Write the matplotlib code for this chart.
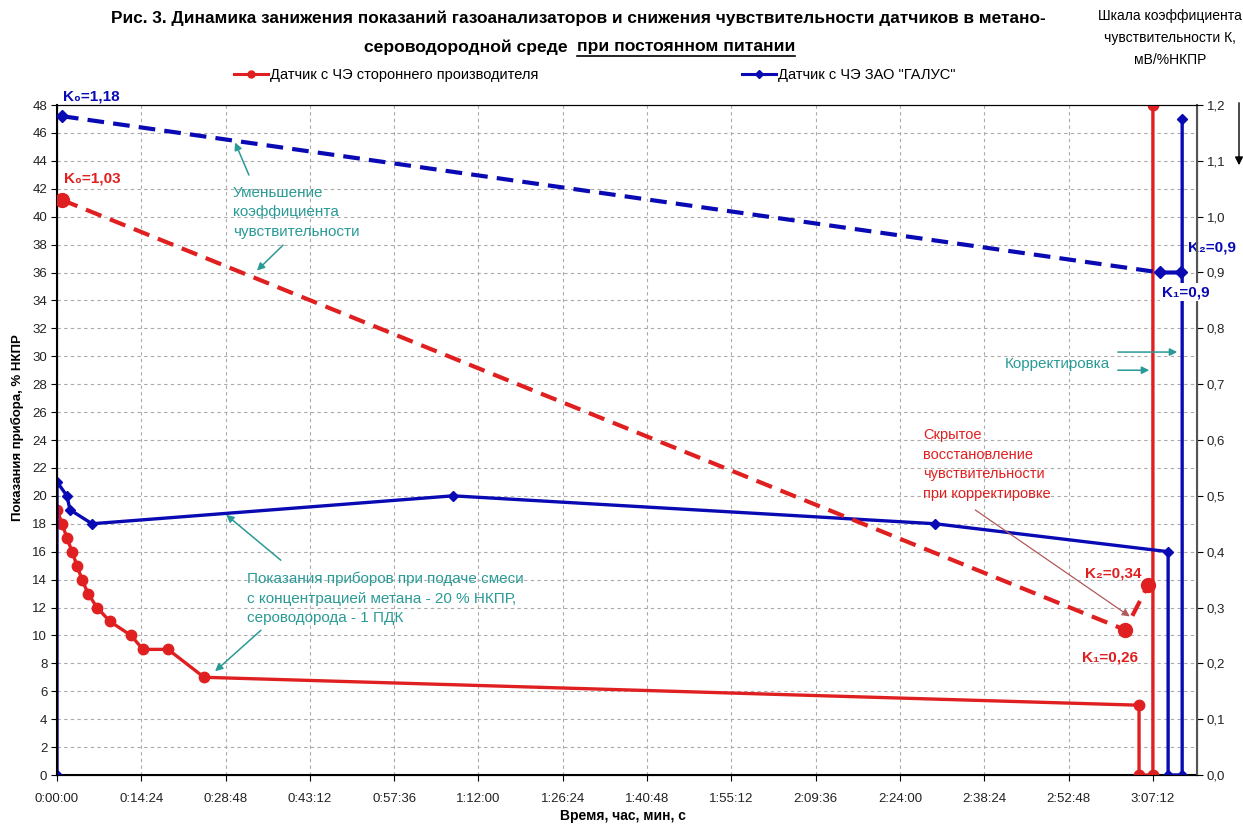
import matplotlib
matplotlib.use('Agg')
import matplotlib.pyplot as plt
from matplotlib.ticker import FuncFormatter, MultipleLocator
from matplotlib.lines import Line2D
from matplotlib.patches import FancyArrowPatch

# --- данные (время в секундах) ---
red_t = [0, 51, 102, 154, 205, 256, 318, 410, 543, 758, 881, 1138, 1507, 11090, 11090, 11232, 11232]
red_v = [19, 18, 17, 16, 15, 14, 13, 12, 11, 10, 9, 9, 7, 5, 0, 0, 48]
blue_t = [0, 0, 102, 133, 359, 4059, 9000, 11388, 11388, 11532, 11532]
blue_v = [0, 21, 20, 19, 18, 20, 18, 16, 0, 0, 47]

# коэффициент чувствительности K, мВ/%НКПР
kred_t = [51, 10947, 11183]
kred_v = [1.03, 0.26, 0.34]
kblue_t = [51, 11306, 11521]
kblue_v = [1.18, 0.90, 0.90]

RED = '#e02020'
BLUE = '#0a0ab4'
TEAL = '#2a9a96'

plt.rcParams['font.family'] = ['Liberation Sans', 'DejaVu Sans']

fig = plt.figure(figsize=(12.43, 8.25), dpi=100)
ax = fig.add_axes([57 / 1243, 1 - 775 / 825, (1197 - 57) / 1243, (775 - 105) / 825])
ax2 = ax.twinx()

ax.plot(red_t, red_v, color=RED, lw=2.4, marker='o', ms=7.5, zorder=3)
ax.plot(blue_t, blue_v, color=BLUE, lw=2.4, marker='D', ms=5.5, zorder=3)
ax2.plot(kred_t, kred_v, color=RED, lw=3, ls=(0, (4, 2.2)), marker='o', ms=10, zorder=3)
ax2.plot(kblue_t, kblue_v, color=BLUE, lw=3, ls=(0, (4, 2.2)), marker='D', ms=6.5, zorder=3)

ax.set_xlim(0, 11684)
ax.set_ylim(0, 48)
ax2.set_ylim(0, 1.2)
ax.xaxis.set_major_locator(MultipleLocator(864))
ax.yaxis.set_major_locator(MultipleLocator(2))
ax2.yaxis.set_major_locator(MultipleLocator(0.1))


def hms(x, pos):
    s = int(round(x))
    return f"{s // 3600}:{s % 3600 // 60:02d}:{s % 60:02d}"


ax.xaxis.set_major_formatter(FuncFormatter(hms))
ax2.yaxis.set_major_formatter(FuncFormatter(lambda v, p: f"{v:.1f}".replace('.', ',')))

ax.grid(True, ls=(0, (3, 3)), color='#aaaaaa', lw=0.8)
ax.set_axisbelow(True)
for a in (ax, ax2):
    a.tick_params(labelsize=9.5, length=4, direction='out', pad=3, labelcolor='#222222')
ax.tick_params(axis='x', pad=9)
ax2.spines['right'].set_color('#555555')
ax2.spines['right'].set_linewidth(1.5)
ax.spines['left'].set_linewidth(1.5)
ax.spines['bottom'].set_linewidth(1.5)

ax.set_ylabel('Показания прибора, % НКПР', fontsize=9.5, fontweight='bold')
ax.yaxis.set_label_coords(-0.029, 0.518)
ax.set_xlabel('Время, час, мин, с', fontsize=10, fontweight='bold')
ax.xaxis.set_label_coords(0.496, -0.051)

# --- заголовок ---
fig.text(578 / 1243, 1 - 18 / 825,
         'Рис. 3. Динамика занижения показаний газоанализаторов и снижения чувствительности датчиков в метано-',
         ha='center', va='center', fontsize=12.4, fontweight='bold')
fig.text(573 / 1243, 1 - 47 / 825, 'сероводородной среде ', ha='right', va='center',
         fontsize=12.6, fontweight='bold')
t_under = fig.text(577 / 1243, 1 - 47 / 825, 'при постоянном питании', ha='left', va='center',
                   fontsize=12.6, fontweight='bold')

fig.text(1170 / 1243, 1 - 9 / 825, 'Шкала коэффициента\nчувствительности К,\nмВ/%НКПР',
         ha='center', va='top', fontsize=10, linespacing=1.75)
fig.add_artist(FancyArrowPatch((1239 / 1243, 1 - 100 / 825), (1239 / 1243, 1 - 168 / 825),
                               transform=fig.transFigure, arrowstyle='-|>',
                               mutation_scale=12, color='black', lw=1))

# --- легенда ---
h_red = Line2D([], [], color=RED, lw=2.2, marker='o', ms=5)
h_blue = Line2D([], [], color=BLUE, lw=2.2, marker='D', ms=4)
fig.legend([h_red, h_blue], ['Датчик с ЧЭ стороннего производителя', 'Датчик с ЧЭ ЗАО "ГАЛУС"'],
           loc='center left', bbox_to_anchor=(234 / 1243, 1 - 75 / 825), ncol=2, frameon=False,
           prop={'size': 10.5}, handlelength=2.3, handletextpad=0.15,
           columnspacing=14.0, borderpad=0, borderaxespad=0)

# --- подписи K ---
kw = dict(fontsize=11, fontweight='bold', va='center', ha='left', clip_on=False)
ax.text(61, 48.6, 'K₀=1,18', color=BLUE, **kw)
ax.text(72, 42.77, 'K₀=1,03', color=RED, **kw)
ax.text(11592, 37.8, 'K₂=0,9', color=BLUE, **kw)
ax2.text(11330, 0.865, 'K₁=0,9', color=BLUE, zorder=5,
         bbox=dict(fc='white', ec='none', pad=1.5), **kw)
ax.text(10536, 14.47, 'K₂=0,34', color=RED, **kw)
ax.text(10505, 8.45, 'K₁=0,26', color=RED, **kw)

# --- пояснения ---
akw = dict(arrowstyle='-|>', color=TEAL, lw=1.1, mutation_scale=11)
ax.text(1804, 42.2, 'Уменьшение\nкоэффициента\nчувствительности', color=TEAL, fontsize=11,
        va='top', ha='left', linespacing=1.5)
ax.annotate('', xy=(1814, 45.5), xytext=(1978, 42.8), arrowprops=akw)
ax.annotate('', xy=(2029, 36.0), xytext=(2337, 38.1), arrowprops=akw)

ax.text(1947, 14.55, 'Показания приборов при подаче смеси\nс концентрацией метана - 20 % НКПР,\nсероводорода - 1 ПДК',
        color=TEAL, fontsize=11, va='top', ha='left', linespacing=1.5)
ax.annotate('', xy=(1712, 18.77), xytext=(2316, 15.26), arrowprops=akw)
ax.annotate('', xy=(1599, 7.3), xytext=(2111, 10.5), arrowprops=akw)

ax.text(9716, 29.44, 'Корректировка', color=TEAL, fontsize=11, va='center', ha='left')
ax.annotate('', xy=(11510, 30.3), xytext=(10844, 30.3), arrowprops=akw, annotation_clip=False)
ax.annotate('', xy=(11223, 29.0), xytext=(10844, 29.0), arrowprops=akw)

ax.text(8876, 24.85, 'Скрытое\nвосстановление\nчувствительности\nпри корректировке', color=RED,
        fontsize=10.5, va='top', ha='left', linespacing=1.5)
ax.annotate('', xy=(11018, 11.25), xytext=(9388, 19.1),
            arrowprops=dict(arrowstyle='-|>', color='#b05a5a', lw=0.9, mutation_scale=11))

# подчёркивание
fig.canvas.draw()
bb = t_under.get_window_extent().transformed(fig.transFigure.inverted())
fig.add_artist(Line2D([bb.x0, bb.x1], [bb.y0 - 0.002, bb.y0 - 0.002], transform=fig.transFigure,
                      color='black', lw=1.2))

fig.savefig('out.png', dpi=100)
